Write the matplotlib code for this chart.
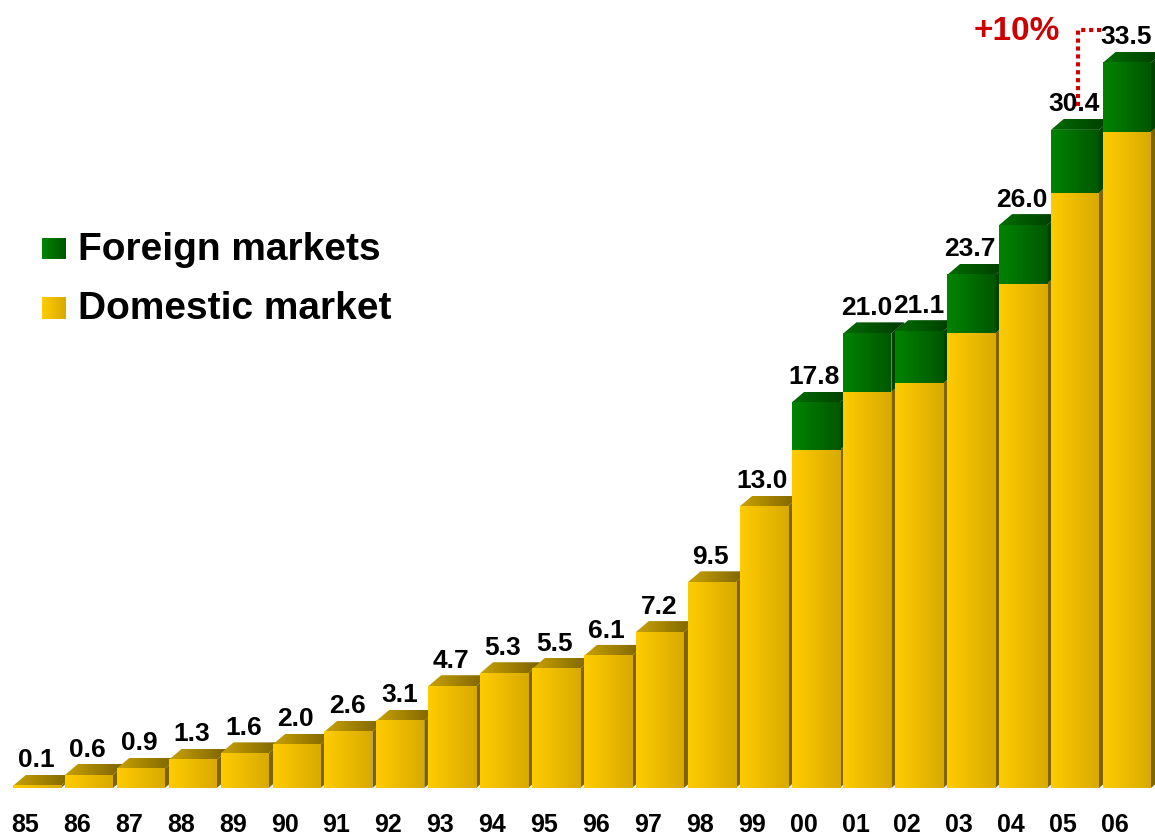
import matplotlib
matplotlib.use("Agg")
import matplotlib.pyplot as plt
import numpy as np
from matplotlib.colors import LinearSegmentedColormap
from matplotlib.patches import Polygon

plt.rcParams["font.family"] = ["Liberation Sans", "DejaVu Sans"]
plt.rcParams["font.weight"] = "bold"

years = ["85", "86", "87", "88", "89", "90", "91", "92", "93", "94", "95",
         "96", "97", "98", "99", "00", "01", "02", "03", "04", "05", "06"]
totals = [0.1, 0.6, 0.9, 1.3, 1.6, 2.0, 2.6, 3.1, 4.7, 5.3, 5.5,
          6.1, 7.2, 9.5, 13.0, 17.8, 21.0, 21.1, 23.7, 26.0, 30.4, 33.5]
domestic = [0.1, 0.6, 0.9, 1.3, 1.6, 2.0, 2.6, 3.1, 4.7, 5.3, 5.5,
            6.1, 7.2, 9.5, 13.0, 15.6, 18.3, 18.7, 21.0, 23.3, 27.5, 30.3]
foreign = [0, 0, 0, 0, 0, 0, 0, 0, 0, 0, 0,
           0, 0, 0, 0, 2.2, 2.7, 2.4, 2.7, 2.7, 2.9, 3.2]
growth_label = "+10%"
legend_labels = ["Foreign markets", "Domestic market"]

W, H = 1155, 838
PITCH = 51.9          # px per bar slot
SCALE = 21.65         # px per unit
BASE_X, BASE_Y = 37, 788
WIDTH = 48 / PITCH
DX = 13 / PITCH
DY = 11 / SCALE

GRAD = np.linspace(0, 1, 256).reshape(1, -1)


def cmap(c0, c1):
    return LinearSegmentedColormap.from_list("g", [c0, c1])


YEL = {"front": cmap("#FFCC00", "#D8AA00"),
       "top": cmap("#C9A200", "#786000"),
       "side": "#7D6400"}
GRN = {"front": cmap("#008400", "#005600"),
       "top": cmap("#006C00", "#003A00"),
       "side": "#004200"}


def draw_segment(ax, x, b, t, style, z, with_top):
    L, R = x - WIDTH / 2, x + WIDTH / 2
    side = Polygon([(R, b), (R + DX, b + DY), (R + DX, t + DY), (R, t)],
                   closed=True, fc=style["side"], ec="none", zorder=z)
    ax.add_patch(side)
    if with_top:
        top = Polygon([(L, t), (L + DX, t + DY), (R + DX, t + DY), (R, t)],
                      closed=True, transform=ax.transData, fc="none",
                      ec="none")
        im = ax.imshow(GRAD, cmap=style["top"], extent=[L, R + DX, t, t + DY],
                       aspect="auto", interpolation="bilinear",
                       origin="lower", zorder=z + 0.001)
        im.set_clip_path(top)
    ax.imshow(GRAD, cmap=style["front"], extent=[L, R, b, t], aspect="auto",
              interpolation="bilinear", origin="lower", zorder=z + 0.002)


fig = plt.figure(figsize=(W / 100, H / 100), dpi=100)
ax = fig.add_axes([0, 0, 1, 1])
ax.axis("off")

for i, (d, f) in enumerate(zip(domestic, foreign)):
    z = 1 + i * 0.01
    draw_segment(ax, i, 0, d, YEL, z, with_top=(f == 0))
    if f > 0:
        draw_segment(ax, i, d, d + f, GRN, z + 0.005, with_top=True)
    ax.text(i - 0.02, totals[i] + 0.85, f"{totals[i]:.1f}", ha="center",
            va="baseline", fontsize=19, fontweight="bold", zorder=5)
    ax.text(i - 0.23, -2.05, years[i], ha="center", va="baseline",
            fontsize=18, fontweight="bold", zorder=5)

# dotted growth connector from 05 to 06
lvl = 35.0
ax.plot([20.06, 20.06, 20.52], [totals[20] + 1.1, lvl, lvl], color="#D00000",
        lw=3, ls=(0, (1, 0.9)), solid_capstyle="butt", zorder=6)
ax.text(19.71, 34.55, growth_label, ha="right", va="baseline", fontsize=24,
        fontweight="bold", color="#CC0000", zorder=6)

ax.set_xlim((0 - BASE_X) / PITCH, (W - BASE_X) / PITCH)
ax.set_ylim((BASE_Y - H) / SCALE, BASE_Y / SCALE)

# legend
for (y0, y1), lab, st, base in zip([(238, 259), (297, 319)], legend_labels,
                                   [GRN, YEL], [260, 319]):
    lax = fig.add_axes([42 / W, 1 - y1 / H, 24 / W, (y1 - y0) / H])
    lax.imshow(GRAD, cmap=st["front"], aspect="auto")
    lax.axis("off")
    fig.text(78 / W, 1 - base / H, lab, ha="left", va="baseline",
             fontsize=28, fontweight="bold")

fig.savefig("out.png", dpi=100)
